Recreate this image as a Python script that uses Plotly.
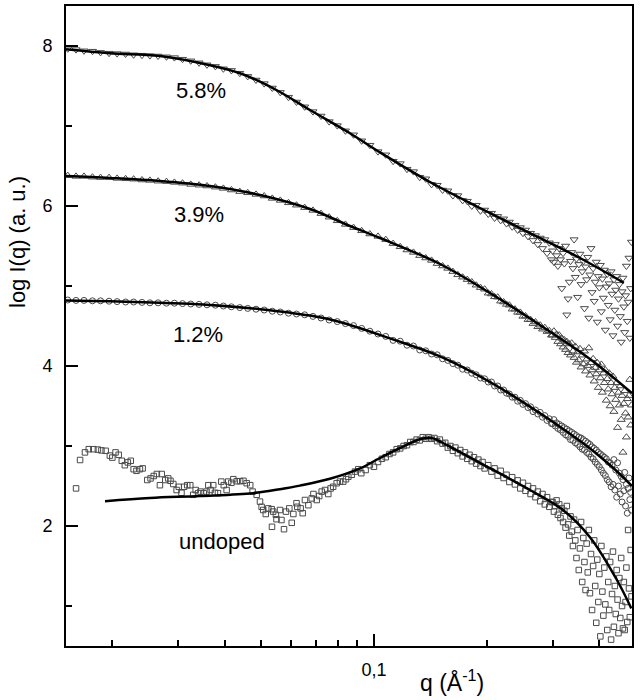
import math
import plotly.graph_objects as go

# ---------------- data ----------------
# q grid of the doped samples (A^-1)
q_low = [0.0152, 0.0160, 0.0168, 0.0177, 0.0186, 0.0196, 0.0206, 0.0217, 0.0228, 0.0240,
         0.0252, 0.0265, 0.0279, 0.0293, 0.0308, 0.0324, 0.0341, 0.0358, 0.0377, 0.0396,
         0.0416, 0.0438, 0.0460, 0.0484, 0.0509, 0.0535, 0.0562, 0.0591, 0.0621, 0.0653,
         0.0687, 0.0722, 0.0759, 0.0798, 0.0839, 0.0882, 0.0927, 0.0975]
q_mid = [0.1025, 0.1075, 0.1125, 0.1175, 0.1225, 0.1275, 0.1325, 0.1375, 0.1425, 0.1475,
         0.1525, 0.1575, 0.1625, 0.1675, 0.1725, 0.1775, 0.1825, 0.1875, 0.1925, 0.1975]
q_hi1 = [0.202, 0.206, 0.210, 0.214, 0.218, 0.222, 0.226, 0.230, 0.234, 0.238,
         0.242, 0.246, 0.250, 0.254, 0.258, 0.262, 0.266, 0.270, 0.274, 0.278,
         0.282, 0.286, 0.290, 0.294, 0.298]
q_hi2 = [0.3000, 0.3025, 0.3050, 0.3075, 0.3100, 0.3125, 0.3150, 0.3175, 0.3200, 0.3225,
         0.3250, 0.3275, 0.3300, 0.3325, 0.3350, 0.3375, 0.3400, 0.3425, 0.3450, 0.3475,
         0.3500, 0.3525, 0.3550, 0.3575, 0.3600, 0.3625, 0.3650, 0.3675, 0.3700, 0.3725,
         0.3750, 0.3775, 0.3800, 0.3825, 0.3850, 0.3875, 0.3900, 0.3925, 0.3950, 0.3975,
         0.4000, 0.4025, 0.4050, 0.4075, 0.4100, 0.4125, 0.4150, 0.4175, 0.4200, 0.4225,
         0.4250, 0.4275, 0.4300, 0.4325, 0.4350, 0.4375, 0.4400, 0.4425, 0.4450, 0.4475,
         0.4500, 0.4525, 0.4550, 0.4575, 0.4600, 0.4625, 0.4650, 0.4675, 0.4700, 0.4725,
         0.4750, 0.4775, 0.4800, 0.4825, 0.4850, 0.4875]

# 5.8 %
y58_low = [7.965, 7.955, 7.94, 7.935, 7.92, 7.91, 7.905, 7.90, 7.89, 7.885,
           7.88, 7.875, 7.865, 7.855, 7.835, 7.815, 7.79, 7.765, 7.745, 7.715,
           7.695, 7.66, 7.62, 7.575, 7.53, 7.475, 7.42, 7.36, 7.30, 7.24,
           7.18, 7.125, 7.055, 7.005, 6.94, 6.89, 6.815, 6.76]
y58_mid = [6.68, 6.64, 6.56, 6.53, 6.46, 6.43, 6.36, 6.34, 6.27, 6.26,
           6.20, 6.19, 6.13, 6.13, 6.07, 6.06, 6.00, 6.01, 5.94, 5.95]
y58_hi1 = [5.90, 5.91, 5.85, 5.87, 5.82, 5.84, 5.78, 5.80, 5.74, 5.76,
           5.70, 5.73, 5.66, 5.70, 5.62, 5.66, 5.57, 5.63, 5.52, 5.60,
           5.47, 5.58, 5.41, 5.54, 5.33]
y58_hi2 = [5.44, 5.30, 5.52, 5.38, 5.25, 5.47, 5.33, 4.97, 5.41, 5.28,
           5.50, 4.64, 4.84, 5.05, 5.31, 5.42, 5.22, 5.58, 5.11, 5.34,
           4.86, 5.27, 5.40, 5.02, 5.18, 5.31, 4.72, 5.24, 5.08, 5.36,
           4.60, 5.14, 5.47, 4.92, 5.22, 4.81, 5.05, 5.30, 4.55, 5.12,
           4.98, 5.26, 4.68, 5.09, 4.85, 5.20, 4.45, 4.99, 5.15, 4.76,
           5.03, 4.58, 5.18, 4.90, 4.38, 5.08, 4.70, 4.95, 5.12, 4.50,
           4.84, 5.02, 4.62, 4.30, 4.93, 5.10, 4.74, 4.42, 4.88, 5.25,
           4.56, 4.80, 5.35, 4.35, 4.97, 5.55]

# 3.9 %
y39_low = [6.38, 6.37, 6.37, 6.36, 6.355, 6.355, 6.345, 6.34, 6.335, 6.325,
           6.32, 6.31, 6.305, 6.295, 6.285, 6.27, 6.26, 6.25, 6.235, 6.22,
           6.2, 6.18, 6.165, 6.145, 6.125, 6.095, 6.07, 6.04, 6.01, 5.98,
           5.945, 5.905, 5.86, 5.815, 5.77, 5.73, 5.69, 5.65]
y39_mid = [5.62, 5.58, 5.53, 5.49, 5.45, 5.42, 5.38, 5.35, 5.32, 5.28,
           5.25, 5.22, 5.18, 5.14, 5.11, 5.08, 5.05, 5.01, 4.98, 4.96]
y39_hi1 = [4.91, 4.90, 4.865, 4.86, 4.81, 4.80, 4.77, 4.76, 4.71, 4.71,
           4.67, 4.67, 4.62, 4.625, 4.58, 4.58, 4.53, 4.55, 4.49, 4.51,
           4.46, 4.48, 4.43, 4.44, 4.385]
y39_hi2 = [4.385, 4.435, 4.355, 4.395, 4.305, 4.385, 4.275, 4.345, 4.235, 4.325,
           4.205, 4.305, 4.165, 4.275, 4.135, 4.285, 4.185, 4.105, 4.245, 4.045,
           4.175, 4.075, 4.215, 3.985, 4.135, 4.025, 4.185, 3.935, 4.085, 4.005,
           4.225, 3.885, 4.04, 3.95, 4.09, 3.81, 3.98, 3.90, 4.04, 3.73,
           3.95, 3.85, 4.02, 3.67, 3.91, 3.79, 3.95, 3.57, 3.84, 3.71,
           3.91, 3.50, 3.79, 3.65, 3.87, 3.43, 3.73, 3.58, 3.79, 3.23,
           3.67, 3.51, 3.75, 3.33, 3.63, 2.92, 3.53, 3.69, 3.41, 3.11,
           3.59, 3.36, 3.63, 3.83, 3.26, 3.51]

# 1.2 %
y12_low = [4.825, 4.82, 4.82, 4.815, 4.815, 4.81, 4.805, 4.80, 4.80, 4.795,
           4.79, 4.79, 4.785, 4.785, 4.78, 4.775, 4.77, 4.765, 4.76, 4.75,
           4.74, 4.73, 4.72, 4.71, 4.70, 4.685, 4.675, 4.66, 4.65, 4.64,
           4.62, 4.60, 4.575, 4.555, 4.53, 4.505, 4.47, 4.435]
y12_mid = [4.40, 4.37, 4.32, 4.31, 4.26, 4.25, 4.20, 4.19, 4.15, 4.14,
           4.09, 4.07, 4.03, 4.01, 3.96, 3.95, 3.91, 3.89, 3.85, 3.84]
y12_hi1 = [3.80, 3.80, 3.75, 3.75, 3.70, 3.70, 3.66, 3.65, 3.61, 3.61,
           3.56, 3.57, 3.52, 3.53, 3.48, 3.49, 3.43, 3.45, 3.40, 3.42,
           3.36, 3.38, 3.32, 3.34, 3.28]
y12_hi2 = [3.28, 3.33, 3.25, 3.29, 3.22, 3.27, 3.20, 3.25, 3.17, 3.23,
           3.14, 3.21, 3.12, 3.19, 3.08, 3.17, 3.07, 3.15, 3.04, 3.13,
           3.02, 3.11, 2.99, 3.10, 2.96, 3.08, 2.95, 3.06, 2.92, 3.04,
           2.90, 3.02, 2.86, 2.99, 2.84, 2.97, 2.80, 2.95, 2.77, 2.92,
           2.74, 2.90, 2.70, 2.88, 2.66, 2.86, 2.63, 2.84, 2.58, 2.80,
           2.55, 2.79, 2.49, 2.76, 2.52, 2.83, 2.45, 2.70, 2.36, 2.79,
           2.50, 2.66, 2.40, 2.62, 2.30, 2.58, 2.44, 2.67, 2.25, 2.52,
           2.16, 2.47, 2.60, 2.33, 2.42, 2.20]

# undoped
qu_low = [0.0160, 0.0164, 0.0169, 0.0173, 0.0178, 0.0183, 0.0187, 0.0192, 0.0197, 0.0200,
          0.0204, 0.0208, 0.0212, 0.0216, 0.0220, 0.0224, 0.0228, 0.0232, 0.0237, 0.0241,
          0.0248, 0.0253, 0.0258, 0.0263, 0.0268, 0.0271, 0.0277, 0.0282, 0.0286, 0.0291,
          0.0297, 0.0301, 0.0306, 0.0311, 0.0317, 0.0323, 0.0329, 0.0334, 0.0339, 0.0344,
          0.0351, 0.0357, 0.0361, 0.0366, 0.0372, 0.0376, 0.0383, 0.0391, 0.0397, 0.0404,
          0.0408, 0.0416, 0.0421, 0.0430, 0.0439, 0.0448, 0.0457, 0.0467, 0.0474, 0.0486,
          0.0496, 0.0501, 0.0506, 0.0514, 0.0522, 0.0533, 0.0534, 0.0538, 0.0547, 0.0549,
          0.0561, 0.0566, 0.0575, 0.0582, 0.0594, 0.0603, 0.0609, 0.0621, 0.0624, 0.0637,
          0.0645, 0.0654, 0.0668, 0.0682, 0.0689, 0.0703, 0.0714, 0.0725, 0.0740, 0.0755,
          0.0766, 0.0778, 0.0795, 0.0811, 0.0828, 0.0842, 0.0854, 0.0872, 0.0890, 0.0908]
yu_low = [2.47, 2.825, 2.92, 2.96, 2.96, 2.955, 2.945, 2.94, 2.88, 2.855,
          2.92, 2.89, 2.815, 2.76, 2.795, 2.815, 2.71, 2.69, 2.71, 2.72,
          2.575, 2.595, 2.625, 2.65, 2.51, 2.65, 2.575, 2.595, 2.565, 2.525,
          2.45, 2.49, 2.415, 2.49, 2.51, 2.51, 2.39, 2.45, 2.41, 2.43,
          2.41, 2.43, 2.51, 2.45, 2.51, 2.415, 2.41, 2.555, 2.51, 2.45,
          2.555, 2.54, 2.585, 2.56, 2.56, 2.565, 2.535, 2.51, 2.43, 2.39,
          2.305, 2.24, 2.2, 2.15, 2.22, 2.21, 1.99, 2.18, 2.14, 2.085,
          2.2, 2.075, 1.96, 2.18, 2.22, 2.04, 2.15, 2.285, 2.24, 2.22,
          2.16, 2.325, 2.26, 2.345, 2.4, 2.325, 2.375, 2.43, 2.45, 2.4,
          2.47, 2.49, 2.535, 2.555, 2.555, 2.585, 2.615, 2.64, 2.68, 2.71]
qu_mid = [0.0925, 0.0950, 0.0975, 0.1000, 0.1025, 0.1050, 0.1075, 0.1100, 0.1125, 0.1150,
          0.1175, 0.1200, 0.1225, 0.1250, 0.1275, 0.1300, 0.1325, 0.1350, 0.1375, 0.1400,
          0.1425, 0.1450, 0.1475, 0.1500, 0.1525, 0.1550, 0.1575, 0.1600, 0.1625, 0.1650,
          0.1675, 0.1700, 0.1725, 0.1750, 0.1775, 0.1800, 0.1825, 0.1850, 0.1875, 0.1900,
          0.1925, 0.1950, 0.1975]
yu_mid = [2.66, 2.70, 2.76, 2.74, 2.80, 2.84, 2.86, 2.90, 2.92, 2.96,
          2.97, 3.00, 3.01, 3.05, 3.05, 3.08, 3.07, 3.11, 3.09, 3.11,
          3.09, 3.10, 3.06, 3.08, 3.03, 3.04, 2.98, 3.00, 2.94, 2.98,
          2.91, 2.95, 2.87, 2.92, 2.84, 2.89, 2.81, 2.86, 2.78, 2.83,
          2.75, 2.80, 2.72]
yu_hi1 = [2.76, 2.68, 2.72, 2.63, 2.69, 2.60, 2.64, 2.55, 2.61, 2.52,
          2.57, 2.47, 2.54, 2.44, 2.50, 2.40, 2.47, 2.36, 2.43, 2.31,
          2.40, 2.27, 2.36, 2.24, 2.30]
yu_hi2 = [2.30, 2.18, 2.25, 2.32, 2.14, 2.27, 2.10, 2.22, 2.05, 2.19,
          1.98, 2.25, 2.02, 1.88, 2.12, 1.93, 1.75, 2.08, 1.82, 1.60,
          1.95, 1.45, 1.72, 2.05, 1.30, 1.85, 1.55, 1.20, 1.78, 1.42,
          1.95, 1.16, 1.65, 0.95, 1.50, 1.82, 1.25, 0.79, 1.58, 1.05,
          1.40, 0.62, 1.75, 1.18, 0.88, 1.48, 1.02, 1.62, 0.70, 1.30,
          0.95, 1.55, 0.58, 1.15, 1.68, 0.74, 1.25, 0.90, 1.45, 1.08,
          0.66, 1.35, 0.85, 1.60, 1.00, 0.72, 1.30, 0.70, 1.05, 1.48,
          0.80, 1.95, 1.22, 0.86, 1.70, 1.12]

# fitted curves
fit58_q = [0.01504, 0.0197, 0.02682, 0.03648, 0.04386, 0.04961, 0.0561, 0.06747,
           0.08627, 0.1038, 0.1411, 0.1919, 0.2611, 0.3550, 0.4650]
fit58_y = [7.96, 7.91, 7.875, 7.76, 7.66, 7.555, 7.425, 7.2,
           6.91, 6.67, 6.30, 5.975, 5.66, 5.35, 5.04]
fit39_q = [0.01504, 0.0197, 0.02682, 0.03648, 0.04961, 0.06747, 0.08627, 0.1038,
           0.1501, 0.2041, 0.2776, 0.3776, 0.489]
fit39_y = [6.375, 6.35, 6.3125, 6.25, 6.1375, 5.9625, 5.75, 5.6,
           5.275, 4.9125, 4.5125, 4.0875, 3.66]
fit12_q = [0.01504, 0.0197, 0.02682, 0.03494, 0.04961, 0.06747, 0.0811, 0.1103,
           0.1501, 0.2041, 0.2776, 0.3776, 0.4322, 0.489]
fit12_y = [4.82, 4.81, 4.79, 4.77, 4.71, 4.63, 4.55, 4.345,
           4.12, 3.80, 3.41, 2.97, 2.74, 2.50]
fitu_q = [0.01912, 0.0252, 0.0343, 0.04751, 0.0561, 0.06344, 0.07627, 0.09176,
          0.1038, 0.1173, 0.1325, 0.1385, 0.1425, 0.1475, 0.1567, 0.1919,
          0.2611, 0.3198, 0.3776, 0.4457, 0.487]
fitu_y = [2.31, 2.35, 2.375, 2.41, 2.46, 2.505, 2.59, 2.72,
          2.85, 2.975, 3.085, 3.10, 3.10, 3.075, 3.01, 2.79,
          2.45, 2.2, 1.86, 1.325, 0.97]

labels = ["5.8%", "3.9%", "1.2%", "undoped"]
label_q = [0.0345, 0.0341, 0.0339, 0.0393]
label_y = [7.44, 5.90, 4.39, 1.81]

y_ticks = [2, 4, 6, 8]
y_minor = [1, 3, 5, 7]
x_ticks = [0.1]
x_ticktext = ["0,1"]
x_minor = [0.02, 0.03, 0.04, 0.05, 0.06, 0.07, 0.08, 0.09, 0.2, 0.3, 0.4]

# ---------------- figure ----------------
FONT = "Liberation Sans, Arial, Helvetica, sans-serif"
L, R, T, B = 66, 8, 6, 54
W, H = 640, 700
pw, ph = W - L - R, H - T - B

q_doped = q_low + q_mid + q_hi1 + q_hi2
q_undoped = qu_low + qu_mid + q_hi1 + q_hi2

series = [
    (q_doped, y58_low + y58_mid + y58_hi1 + y58_hi2, "triangle-down-open", 7),
    (q_doped, y39_low + y39_mid + y39_hi1 + y39_hi2, "triangle-up-open", 7),
    (q_doped, y12_low + y12_mid + y12_hi1 + y12_hi2, "circle-open", 6),
    (q_undoped, yu_low + yu_mid + yu_hi1 + yu_hi2, "square-open", 5.5),
]
fits = [(fit58_q, fit58_y), (fit39_q, fit39_y), (fit12_q, fit12_y), (fitu_q, fitu_y)]

fig = go.Figure()
for qx, yy, sym, sz in series:
    n = min(len(qx), len(yy))
    fig.add_trace(go.Scatter(
        x=qx[:n], y=yy[:n], mode="markers", showlegend=False,
        marker=dict(symbol=sym, size=sz, color="#4a4a4a", line=dict(width=1)),
    ))
for fq, fy in fits:
    fig.add_trace(go.Scatter(
        x=fq, y=fy, mode="lines", showlegend=False,
        line=dict(color="black", width=2.5, shape="spline"),
    ))

for t, lq, ly in zip(labels, label_q, label_y):
    fig.add_annotation(x=math.log10(lq), y=ly, xref="x", yref="y", text=t,
                       showarrow=False, xanchor="center", yanchor="middle",
                       font=dict(family=FONT, size=22, color="black"))

# axis titles (pixel position -> paper coords)
def px2paper(px, py):
    return (px - L) / pw, (H - B - py) / ph

tx, ty = px2paper(17, 242)
fig.add_annotation(x=tx, y=ty, xref="paper", yref="paper", text="log I(q) (a. u.)",
                   showarrow=False, textangle=-90, xanchor="center", yanchor="middle",
                   font=dict(family=FONT, size=22, color="black"))
tx, ty = px2paper(452, 681)
fig.add_annotation(x=tx, y=ty, xref="paper", yref="paper", text="q (Å<sup>-1</sup>)",
                   showarrow=False, xanchor="center", yanchor="middle",
                   font=dict(family=FONT, size=23, color="black"))

fig.update_layout(
    width=W, height=H,
    margin=dict(l=L, r=R, t=T, b=B, autoexpand=False),
    paper_bgcolor="white", plot_bgcolor="white",
    font=dict(family=FONT, size=18, color="black"),
    xaxis=dict(
        type="log", range=[math.log10(0.01504), math.log10(0.489)],
        showgrid=False, zeroline=False, automargin=False,
        showline=True, linecolor="black", linewidth=2, mirror=True,
        ticks="inside", ticklen=12, tickwidth=1.5, tickcolor="black",
        tickmode="array", tickvals=x_ticks, ticktext=x_ticktext,
        tickfont=dict(family=FONT, size=18, color="black"),
        ticklabelstandoff=6,
        minor=dict(ticks="inside", ticklen=6, tickwidth=1.5, tickcolor="black",
                   tickmode="array", tickvals=x_minor, showgrid=False),
    ),
    yaxis=dict(
        range=[0.5, 8.5],
        showgrid=False, zeroline=False, automargin=False,
        showline=True, linecolor="black", linewidth=2, mirror=True,
        ticks="inside", ticklen=12, tickwidth=1.5, tickcolor="black",
        tickmode="array", tickvals=y_ticks, ticktext=[str(v) for v in y_ticks],
        tickfont=dict(family=FONT, size=18, color="black"),
        ticklabelstandoff=8,
        minor=dict(ticks="inside", ticklen=6, tickwidth=1.5, tickcolor="black",
                   tickmode="array", tickvals=y_minor, showgrid=False),
    ),
)

fig.write_html("out.html", config={"displayModeBar": False},
               post_script="document.body.style.margin='0px';document.body.style.padding='0px';")
